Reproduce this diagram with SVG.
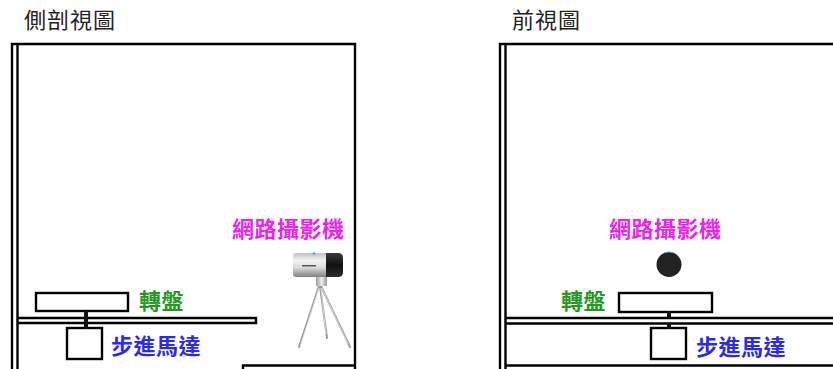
<svg xmlns="http://www.w3.org/2000/svg" width="833" height="369" viewBox="0 0 833 369">
  <style>
    .ln { fill: none; stroke: #000; stroke-width: 2.4; }
    .box { fill: #fff; stroke: #000; stroke-width: 2.4; }
    .title { font-family: "Liberation Sans", "Noto Sans CJK TC", sans-serif; font-size: 22px; letter-spacing: 1px; fill: #222; }
    .lbl { font-family: "Liberation Sans", "Noto Sans CJK TC", sans-serif; font-size: 22px; letter-spacing: 0.5px; font-weight: bold; }
    .cam { fill: #ee22ee; }
    .tt { fill: #229922; }
    .mot { fill: #2a2aee; }
    .shaft { fill: #111; }
    .leg { stroke: #9a9a9a; stroke-width: 2; stroke-linecap: round; fill: none; }
    .legHi { stroke: #f2f2f2; stroke-width: 0.7; fill: none; }
  </style>
  <defs>
    <linearGradient id="bodyGrad" x1="0" y1="0" x2="0" y2="1">
      <stop offset="0" stop-color="#c0c0c0"/>
      <stop offset="0.3" stop-color="#f2f2f2"/>
      <stop offset="0.6" stop-color="#dcdcdc"/>
      <stop offset="1" stop-color="#808080"/>
    </linearGradient>
    <linearGradient id="lensGrad" x1="0" y1="0" x2="0" y2="1">
      <stop offset="0" stop-color="#3a3a3a"/>
      <stop offset="0.5" stop-color="#111"/>
      <stop offset="1" stop-color="#2a2a2a"/>
    </linearGradient>
    <linearGradient id="neckGrad" x1="0" y1="0" x2="1" y2="0">
      <stop offset="0" stop-color="#999"/>
      <stop offset="0.5" stop-color="#eee"/>
      <stop offset="1" stop-color="#999"/>
    </linearGradient>
  </defs>

  <rect width="833" height="369" fill="#fff"/>

  <!-- Side view (cross-section) -->
  <g id="side-title">
    <text class="title" x="24" y="28">側剖視圖</text>
  </g>
  <g id="side-frame">
    <path class="ln" d="M12,369 V44 H355 V369"/>
    <path class="ln" d="M17.5,369 V45"/>
    <!-- shelf plate -->
    <path class="ln" d="M17.5,318 H256 V323 H17.5"/>
    <!-- base block, bottom right -->
    <path class="ln" d="M243,370 V365.5 H355"/>
  </g>
  <g id="side-turntable">
    <rect class="box" x="36" y="293" width="92" height="18"/>
  </g>
  <g id="side-motor">
    <rect class="box" x="67" y="328" width="35" height="31"/>
  </g>
  <g id="side-camera">
    <!-- tripod -->
    <path class="leg" d="M319,286 L299,347 M320,286 L327,338 M321,286 L350,347"/>
    <path class="legHi" d="M319,288 L300.5,345 M321,288 L326,334 M322,288 L348,344"/>
    <rect x="316" y="276" width="11" height="10" fill="url(#neckGrad)"/>
    <!-- body -->
    <path d="M296,253 H326 V277 H296 Q293,277 293,274 V256 Q293,253 296,253 Z" fill="url(#bodyGrad)"/>
    <path d="M326,253 H338 Q343,253 343,258 V272 Q343,277 338,277 H326 Z" fill="url(#lensGrad)"/>
    <rect x="302" y="265" width="14" height="1.5" fill="#555"/>
    <circle cx="314" cy="253.5" r="1.5" fill="#5ab4e8"/>
  </g>
  <g id="side-labels">
    <text class="lbl cam" x="232" y="237">網路攝影機</text>
    <text class="lbl tt" x="139" y="309">轉盤</text>
    <text class="lbl mot" x="111" y="354">步進馬達</text>
  </g>

  <!-- Front view -->
  <g id="front-title">
    <text class="title" x="512" y="28">前視圖</text>
  </g>
  <g id="front-frame">
    <path class="ln" d="M500,369 V44 H833"/>
    <path class="ln" d="M505.5,369 V45"/>
    <path class="ln" d="M505.5,318 H833 M505.5,323.5 H833"/>
    <path class="ln" d="M505.5,365.5 H833"/>
  </g>
  <g id="front-turntable">
    <rect class="box" x="619" y="293" width="93" height="19"/>
  </g>
  <g id="front-motor">
    <rect class="box" x="651" y="328" width="35" height="31"/>
  </g>
  <g id="front-camera">
    <circle cx="669" cy="264.5" r="12.5" fill="#222"/>
    <path d="M664,252.8 Q669,251 674,252.8" stroke="#5ab4e8" stroke-width="1" fill="none"/>
  </g>
  <g id="front-labels">
    <text class="lbl cam" x="609" y="237">網路攝影機</text>
    <text class="lbl tt" x="561" y="309">轉盤</text>
    <text class="lbl mot" x="696" y="355">步進馬達</text>
  </g>

  <!-- Drive shafts linking each turntable to its motor -->
  <g id="connectors">
    <rect class="shaft" x="84" y="311" width="4" height="18"/>
    <rect class="shaft" x="667" y="311" width="4" height="7"/>
    <rect class="shaft" x="667" y="323" width="4" height="6"/>
  </g>
</svg>
